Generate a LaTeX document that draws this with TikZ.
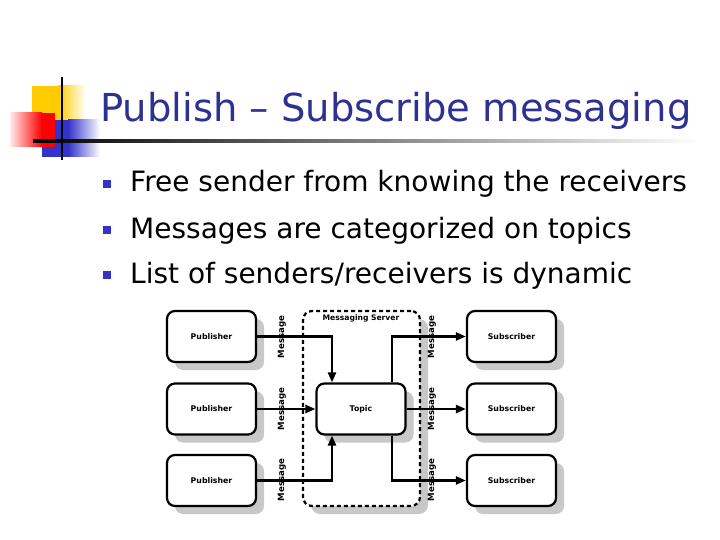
\documentclass[tikz,border=0pt]{standalone}
\usepackage{fontspec}
\setmainfont{DejaVu Sans}
\usetikzlibrary{arrows.meta,shadows}
\definecolor{titleblue}{RGB}{46,49,146}
\definecolor{bulletblue}{RGB}{51,51,204}
\definecolor{logoyellow}{RGB}{255,204,0}
\definecolor{logoblue}{RGB}{51,51,204}
\definecolor{logored}{RGB}{255,0,0}
\definecolor{shadowgray}{RGB}{200,200,200}
\tikzset{
  box/.style={draw, line width=2.2pt, rounded corners=8pt, fill=white,
    minimum width=89pt, minimum height=51pt, inner sep=0pt,
    font=\bfseries\fontsize{7.8}{9}\selectfont,
    drop shadow={shadow xshift=8pt, shadow yshift=-8pt, fill=shadowgray, opacity=1}},
  serverbox/.style={draw, line width=2.2pt, rounded corners=9pt, fill=white,
    dash pattern=on 4pt off 3pt, minimum width=117pt, minimum height=195pt, inner sep=0pt,
    drop shadow={shadow xshift=8pt, shadow yshift=-8pt, fill=shadowgray, opacity=1}},
  conn/.style={line width=2.4pt, -{Triangle[length=10pt,width=8pt]}},
  msg/.style={rotate=90, inner sep=0pt, font=\bfseries\fontsize{8.6}{10}\selectfont},
  bullettext/.style={anchor=base west, inner sep=0pt, font=\fontsize{28}{30}\selectfont}
}
\begin{document}
\begin{tikzpicture}[x=1pt,y=-1pt]
\useasboundingbox (0,0) rectangle (720,540);
% logo
\fill[logoyellow] (32,86) rectangle (58,125);
\shade[left color=logoyellow, right color=white] (58,86) rectangle (86,125);
\fill[logoblue] (42,120) rectangle (68,157);
\shade[left color=logoblue, right color=white] (68,120) rectangle (100,157);
\shade[left color=red!8, right color=logored] (10,113) rectangle (42,147);
\fill[logored] (42,113) rectangle (55,147);
\shade[left color=black, right color=white] (33,140) rectangle (700,142.5);
\draw[line width=2pt] (62,77) -- (62,160);
% title
\node[anchor=base west, inner sep=0pt, text=titleblue, font=\fontsize{38.5}{40}\selectfont] (title) at (100,122) {Publish – Subscribe messaging};
% bullets
\fill[bulletblue] (103,180) rectangle (111,188);
\fill[bulletblue] (103,226) rectangle (111,234);
\fill[bulletblue] (103,271) rectangle (111,279);
\node[bullettext] (b1) at (130,192) {Free sender from knowing the receivers};
\node[bullettext] (b2) at (130,238) {Messages are categorized on topics};
\node[bullettext] (b3) at (130,283) {List of senders/receivers is dynamic};
% diagram
\node[serverbox] (server) at (361.5,408.5) {};
\node[anchor=north, inner sep=0pt, font=\bfseries\fontsize{7.6}{9}\selectfont] (servlabel) at (361,315) {Messaging Server};
\node[box] (p1) at (211.5,336.5) {Publisher};
\node[box] (p2) at (211.5,409) {Publisher};
\node[box] (p3) at (211.5,480.5) {Publisher};
\node[box] (topic) at (361,409) {Topic};
\node[box] (s1) at (511.5,336.5) {Subscriber};
\node[box] (s2) at (511.5,409) {Subscriber};
\node[box] (s3) at (511.5,480.5) {Subscriber};
\node[msg] (m1) at (282,337) {Message};
\node[msg] (m2) at (282,409) {Message};
\node[msg] (m3) at (282,480) {Message};
\node[msg] (m4) at (432,337) {Message};
\node[msg] (m5) at (432,409) {Message};
\node[msg] (m6) at (432,480) {Message};
\draw[conn] (p1.east) -| ([xshift=-29pt]topic.north);
\draw[conn] (p2.east) -- (topic.west);
\draw[conn] (p3.east) -| ([xshift=-29pt]topic.south);
\draw[conn] ([xshift=31pt]topic.north) |- (s1.west);
\draw[conn] (topic.east) -- (s2.west);
\draw[conn] ([xshift=31pt]topic.south) |- (s3.west);
\end{tikzpicture}
\end{document}
